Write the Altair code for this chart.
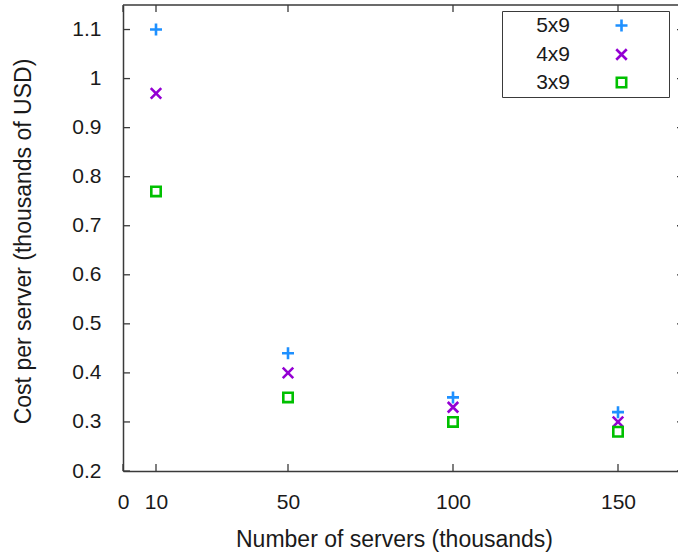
import altair as alt
import pandas as pd

# Cost per server vs. number of servers for three redundancy configurations
servers = [10, 50, 100, 150]
cost_5x9 = [1.10, 0.44, 0.35, 0.32]
cost_4x9 = [0.97, 0.40, 0.33, 0.30]
cost_3x9 = [0.77, 0.35, 0.30, 0.28]
series_names = ["5x9", "4x9", "3x9"]
series_colors = ["#1e90ff", "#9400d3", "#00c000"]

x_tick_values = [0, 10, 50, 100, 150]
y_tick_values = [0.2, 0.3, 0.4, 0.5, 0.6, 0.7, 0.8, 0.9, 1.0, 1.1]

X_MAX = 170
Y_MIN, Y_MAX = 0.2, 1.15
W, H = 555, 466
FONT = "Liberation Sans"
FRAME = "#3a3a3a"
TICK_LEN = 7

# Marker outlines (stroked). The trailing move-to widens the legend box on
# the right without drawing anything.
PAD_MOVE = "M7.55,0"
shapes = [
    "M-1.2,0L1.2,0M0,-1.2L0,1.2" + PAD_MOVE,
    "M-1.05,-1.05L1.05,1.05M-1.05,1.05L1.05,-1.05" + PAD_MOVE,
    "M-0.94,-0.94H0.94V0.94H-0.94Z" + PAD_MOVE,
]

rows = []
for name, vals in zip(series_names, [cost_5x9, cost_4x9, cost_3x9]):
    for s, c in zip(servers, vals):
        rows.append({"servers": s, "cost": c, "config": name})
df = pd.DataFrame(rows)

xscale = alt.Scale(domain=[0, X_MAX], range=[0, 561], nice=False, zero=False)
yscale = alt.Scale(domain=[Y_MIN, Y_MAX], nice=False, zero=False)

x_axis = alt.Axis(
    values=x_tick_values,
    title="Number of servers (thousands)",
    ticks=False,
    tickSize=0,
    grid=False,
    labelFlush=False,
    labelOverlap=False,
    labelPadding=37,
    labelBaseline="alphabetic",
    titleX=271,
    titleY=75,
    titleBaseline="alphabetic",
)
y_axis = alt.Axis(
    values=y_tick_values,
    format="~g",
    title="Cost per server (thousands of USD)",
    ticks=False,
    tickSize=0,
    grid=False,
    labelFlush=False,
    labelOverlap=False,
    labelPadding=22,
    titleX=-88,
    titleY=236,
    titleAlign="center",
    titleBaseline="bottom",
)

# Labels sit to the left of the symbols, gnuplot-style
legend = alt.Legend(
    title=None,
    orient="none",
    legendX=379,
    legendY=6,
    padding=4,
    strokeColor=FRAME,
    symbolSize=100,
    symbolStrokeWidth=2.6,
    symbolOffset=105,
    labelOffset={"expr": "-62"},
    labelAlign="right",
    labelFont=FONT,
    labelFontSize=21,
    labelColor="#1a1a1a",
    rowPadding=6,
)

points = alt.Chart(df).mark_point(
    filled=False, strokeWidth=2.6, size=100, opacity=1
).encode(
    x=alt.X("servers:Q", scale=xscale, axis=x_axis),
    y=alt.Y("cost:Q", scale=yscale, axis=y_axis),
    color=alt.Color(
        "config:N",
        scale=alt.Scale(domain=series_names, range=series_colors),
        legend=legend,
    ),
    shape=alt.Shape(
        "config:N",
        scale=alt.Scale(domain=series_names, range=shapes),
        legend=legend,
    ),
)

xt = pd.DataFrame({"v": x_tick_values})
yt = pd.DataFrame({"v": y_tick_values})
one = pd.DataFrame({"k": [0]})

# Inward ticks on all four sides
bottom_ticks = alt.Chart(xt).mark_rule(color=FRAME, strokeWidth=1.3, y2Offset=-TICK_LEN).encode(
    x=alt.X("v:Q", scale=xscale, axis=x_axis),
    y=alt.YDatum(Y_MIN, type="quantitative", scale=yscale, axis=y_axis),
    y2=alt.Y2Datum(Y_MIN),
)
top_ticks = alt.Chart(xt).mark_rule(color=FRAME, strokeWidth=1.3, y2Offset=TICK_LEN).encode(
    x=alt.X("v:Q", scale=xscale, axis=x_axis),
    y=alt.YDatum(Y_MAX, type="quantitative", scale=yscale, axis=y_axis),
    y2=alt.Y2Datum(Y_MAX),
)
left_ticks = alt.Chart(yt).mark_rule(color=FRAME, strokeWidth=1.3, x2Offset=TICK_LEN).encode(
    y=alt.Y("v:Q", scale=yscale, axis=y_axis),
    x=alt.XDatum(0, type="quantitative", scale=xscale, axis=x_axis),
    x2=alt.X2Datum(0),
)
right_ticks = alt.Chart(yt).mark_rule(color=FRAME, strokeWidth=1.3, x2Offset=-TICK_LEN).encode(
    y=alt.Y("v:Q", scale=yscale, axis=y_axis),
    x=alt.XDatum(X_MAX, type="quantitative", scale=xscale, axis=x_axis),
    x2=alt.X2Datum(X_MAX),
)
top_frame = alt.Chart(one).mark_rule(color=FRAME, strokeWidth=1.5).encode(
    x=alt.XDatum(0, type="quantitative", scale=xscale, axis=x_axis),
    x2=alt.X2Datum(X_MAX),
    y=alt.YDatum(Y_MAX, type="quantitative", scale=yscale, axis=y_axis),
)

chart = alt.layer(
    points, top_frame, bottom_ticks, top_ticks, left_ticks, right_ticks
).properties(
    width=W,
    height=H,
    autosize=alt.AutoSizeParams(type="none"),
    padding={"left": 123, "top": 5, "right": 0, "bottom": 83},
).configure_view(
    stroke=None
).configure_axis(
    domainColor=FRAME,
    domainWidth=1.5,
    labelFont=FONT,
    labelFontSize=21,
    labelColor="#1a1a1a",
    titleFont=FONT,
    titleFontSize=23,
    titleFontWeight="normal",
    titleColor="#1a1a1a",
)

chart.save("out.html", embed_options={"renderer": "svg", "actions": False})
